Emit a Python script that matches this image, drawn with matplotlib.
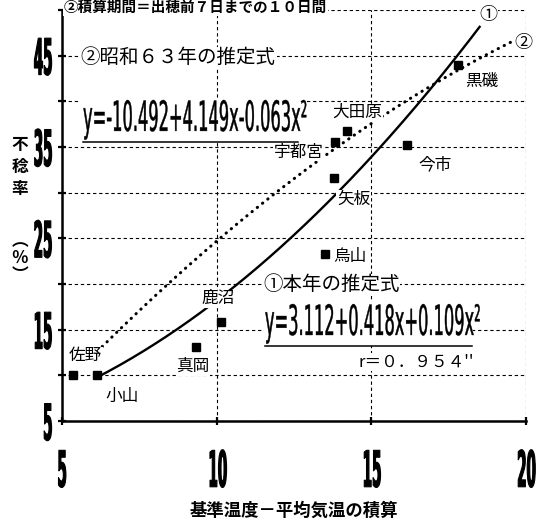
import numpy as np
import matplotlib.pyplot as plt
import matplotlib.patheffects as pe
from matplotlib.transforms import Affine2D
from matplotlib.patches import Rectangle

plt.rcParams['font.family'] = ['Noto Sans CJK JP', 'DejaVu Sans']

# stations: accumulated (base temp - mean temp) vs sterility (%)
stations = ['佐野', '小山', '真岡', '鹿沼', '烏山', '矢板', '宇都宮', '大田原', '今市', '黒磯']
temp_sum = [5.35, 6.12, 9.32, 10.13, 13.5, 13.8, 13.83, 14.2, 16.15, 17.81]
sterility = [10.0, 10.0, 13.1, 15.8, 23.3, 31.6, 35.5, 36.7, 35.2, 44.0]

# quadratic fits y = c0 + c1*x + c2*x^2
coef_this = [3.112, 0.418, 0.109]   # this year
coef_s63 = [-10.492, 4.149, -0.063]  # Showa 63
range_this = (6.12, 18.5)
range_s63 = (6.3, 19.65)
r_value = 0.954

# label offsets from each station marker, points
label_offsets = {
    '佐野': (9, 14), '小山': (18, -15), '真岡': (-2, -14), '鹿沼': (-2, 17),
    '烏山': (18, -2), '矢板': (14, -15), '宇都宮': (-26, -7), '大田原': (8, 13.5),
    '今市': (20, -14), '黒磯': (17, -12),
}


class Squeeze(pe.AbstractPathEffect):
    """Draw text glyphs compressed horizontally (condensed look)."""

    def __init__(self, sx, lw=0.0, anchor='left'):
        super().__init__()
        self.sx, self.lw, self.anchor = sx, lw, anchor

    def draw_path(self, renderer, gc, tpath, affine, rgbFace=None):
        ext = tpath.get_extents()
        cx = {'left': 0.0, 'center': (ext.x0 + ext.x1) / 2, 'right': ext.x1}[self.anchor]
        aff = Affine2D().translate(-cx, 0).scale(self.sx, 1).translate(cx, 0) + affine
        gc0 = renderer.new_gc()
        gc0.copy_properties(gc)
        gc0.set_linewidth(self.lw)
        if rgbFace is not None:
            gc0.set_foreground(rgbFace)
        renderer.draw_path(gc0, tpath, aff, rgbFace)
        gc0.restore()


def poly(c, x):
    return c[0] + c[1] * x + c[2] * x ** 2


def eq_text(c):
    return f'y={c[0]:.3f}{c[1]:+.3f}x{c[2]:+.3f}x²'


fig = plt.figure(figsize=(5.41, 5.22), dpi=100)
ax = fig.add_axes([0.1146, 0.1935, 0.8577, 0.7874])
ax.set_xlim(5, 20)
ax.set_ylim(5, 50)

grid_ls = (0, (3, 2.5))
ax.set_xticks([5, 10, 15, 20])
yt = np.arange(5, 51, 5)
ax.set_yticks(yt)
ax.set_yticklabels([str(v) if v % 10 == 5 else '' for v in yt])
ax.grid(True, color='black', lw=0.8, linestyle=grid_ls, zorder=1)
for s in ['top', 'right']:
    ax.spines[s].set_visible(False)
for s in ['left', 'bottom']:
    ax.spines[s].set_linewidth(1.8)
ax.tick_params(direction='inout', length=6, width=1.6, labelsize=36)
ax.tick_params(axis='x', pad=17)
ax.tick_params(axis='y', pad=2)
for lbl in ax.get_xticklabels():
    lbl.set_fontfamily('DejaVu Sans')
    lbl.set_fontweight('bold')
    lbl.set_path_effects([Squeeze(0.27, lw=0.8, anchor='center')])
for lbl in ax.get_yticklabels():
    lbl.set_fontfamily('DejaVu Sans')
    lbl.set_fontweight('bold')
    lbl.set_path_effects([Squeeze(0.27, lw=0.8, anchor='right')])

# fitted curves
xs = np.linspace(*range_this, 200)
ax.plot(xs, poly(coef_this, xs), color='black', lw=1.7, zorder=2)
xs2 = np.linspace(*range_s63, 200)
ax.plot(xs2, poly(coef_s63, xs2), color='black', lw=2.2,
        linestyle=(0, (0.1, 2.1)), dash_capstyle='round', zorder=2)

# stations
ax.plot(temp_sum, sterility, 's', color='black', ms=5.5, zorder=4)
white = dict(facecolor='white', edgecolor='none', pad=0.5)
for name, x, y in zip(stations, temp_sum, sterility):
    ax.annotate(name, (x, y), xytext=label_offsets[name], textcoords='offset points',
                ha='center', va='center', fontsize=12, bbox=white, zorder=3)

# headings and annotations
ax.text(5.06, 50.3, '②積算期間＝出穂前７日までの１０日間', fontsize=10.5, fontweight='bold',
        ha='left', va='center', bbox=dict(facecolor='white', edgecolor='none', pad=0.3),
        clip_on=False, zorder=3)
ax.text(5.61, 44.76, '②昭和６３年の推定式', fontsize=14, ha='left', va='center',
        bbox=white, zorder=3)
ax.text(11.5, 19.9, '①本年の推定式', fontsize=14, ha='left', va='center',
        bbox=white, zorder=3)
ax.text(18.77, 49.47, '①', fontsize=13, ha='center', va='center', bbox=white,
        clip_on=False, zorder=3)
ax.text(19.9, 46.4, '②', fontsize=13, ha='center', va='center', bbox=white,
        clip_on=False, zorder=3)
r_full = f'{r_value}'.translate(str.maketrans('0123456789.', '０１２３４５６７８９．'))
ax.text(14.57, 11.46, f"r＝{r_full}''", fontsize=12, ha='left', va='center',
        bbox=white, zorder=3)

eq_sx = 0.39
eqs = [
    ax.text(5.68, 36.76, eq_text(coef_s63), fontsize=30, fontfamily='DejaVu Sans',
            ha='left', va='baseline', zorder=4,
            path_effects=[Squeeze(eq_sx, lw=0.3)]),
    ax.text(11.56, 14.42, eq_text(coef_this), fontsize=30, fontfamily='DejaVu Sans',
            ha='left', va='baseline', zorder=4,
            path_effects=[Squeeze(eq_sx, lw=0.3)]),
]

# axis labels
ytr = ax.get_yaxis_transform()
ax.text(-0.0905, 32.8, '不\n稔\n率', transform=ytr, fontsize=12, fontweight='bold',
        ha='center', va='center', linespacing=1.3)
ax.text(-0.0905, 22.85, '︵\n％\n︶', transform=ytr, fontsize=12, fontweight='bold',
        ha='center', va='center', linespacing=0.9)
ax.set_xlabel('基準温度－平均気温の積算', fontsize=12.5, fontweight='bold')
ax.xaxis.set_label_coords(0.5, -0.197)

# white backing and underline for the condensed equations
fig.canvas.draw()
renderer = fig.canvas.get_renderer()
inv = ax.transAxes.inverted()
for t in eqs:
    bb = t.get_window_extent(renderer)
    w = bb.width * eq_sx * 0.95
    (ax0, ay0), (ax1, ay1) = inv.transform([(bb.x0 - 3, bb.y0 - 2), (bb.x0 + w + 3, bb.y1)])
    ax.add_patch(Rectangle((ax0, ay0), ax1 - ax0, ay1 - ay0, transform=ax.transAxes,
                           facecolor='white', edgecolor='none', zorder=3, clip_on=False))
    base = ax.transData.transform(t.get_position())
    (ux0, uy), (ux1, _) = inv.transform([(bb.x0, base[1] - 11), (bb.x0 + w + 2, base[1] - 11)])
    ax.plot([ux0, ux1], [uy, uy], transform=ax.transAxes, color='black', lw=1.1,
            zorder=4, clip_on=False)

fig.savefig('out.png', dpi=100, facecolor='white')
